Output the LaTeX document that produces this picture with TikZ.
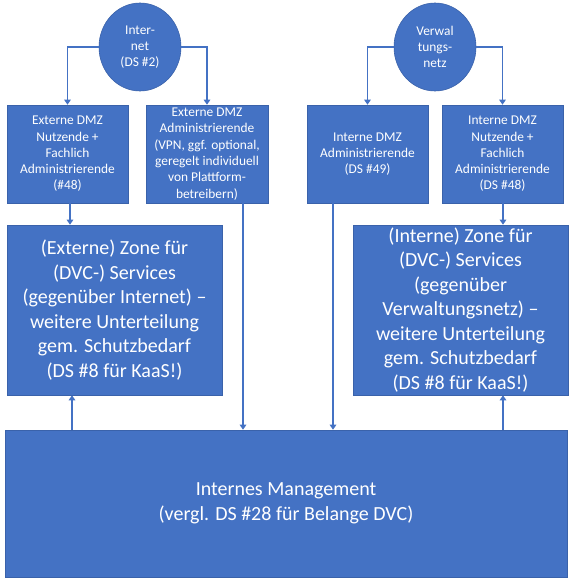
\documentclass[tikz,border=0pt]{standalone}
\usepackage{fontspec}
\setmainfont{Carlito}
\usetikzlibrary{arrows.meta,shapes.geometric}
\definecolor{obl}{HTML}{4472C4}
\definecolor{obd}{HTML}{3A62AA}
\begin{document}
\begin{tikzpicture}[x=1pt,y=-1pt,
  box/.style={rectangle,fill=obl,draw=obd,line width=0.6pt,inner sep=0pt,align=center,text=white},
  oval/.style={ellipse,fill=obl,draw=obd,line width=0.6pt,inner sep=0pt,align=center,text=white},
  small/.style={font=\fontsize{13.4}{16.3}\selectfont},
  big/.style={font=\fontsize{20}{24.5}\selectfont},
  conn/.style={draw=obl,line width=1.8pt},
  arr/.style={conn,-{Triangle[width=6.5pt,length=5pt]}}]
\useasboundingbox[fill=white] (0,0) rectangle (585,583);

% circles
\node[oval,small,minimum width=82pt,minimum height=88pt] (inet) at (140,47) {Inter-\\net\\(DS \#2)};
\node[oval,small,minimum width=82pt,minimum height=88pt] (verw) at (435,47) {Verwal\\tungs-\\netz};

% row 1
\node[box,small,minimum width=121pt,minimum height=98pt] (boxA) at (67.5,154) {Externe DMZ\\Nutzende +\\Fachlich\\Administrierende\\(\#48)};
\node[box,small,minimum width=122pt,minimum height=98pt] (boxB) at (207,154) {Externe DMZ\\Administrierende\\(VPN, ggf. optional,\\geregelt individuell\\von Plattform-\\betreibern)};
\node[box,small,minimum width=121pt,minimum height=98pt] (boxC) at (367.5,154) {Interne DMZ\\Administrierende\\(DS \#49)};
\node[box,small,minimum width=121pt,minimum height=98pt] (boxD) at (502.5,154) {Interne DMZ\\Nutzende +\\Fachlich\\Administrierende\\(DS \#48)};

% row 2
\node[box,big,minimum width=215pt,minimum height=170pt] (zoneE) at (114.5,310) {(Externe) Zone für\\(DVC-) Services\\(gegenüber Internet) –\\weitere Unterteilung\\gem. Schutzbedarf\\(DS \#8 für KaaS!)};
\node[box,big,minimum width=215pt,minimum height=170pt] (zoneF) at (460.5,310) {(Interne) Zone für\\(DVC-) Services\\(gegenüber\\Verwaltungsnetz) –\\weitere Unterteilung\\gem. Schutzbedarf\\(DS \#8 für KaaS!)};

% management
\node[box,big,minimum width=562pt,minimum height=147pt] (mgmt) at (286,503.5) {Internes Management\\(vergl. DS \#28 für Belange DVC)};

% helper x positions
\coordinate (xa) at (70,0);
\coordinate (xe) at (72,0);
\coordinate (xb) at (243,0);
\coordinate (xc) at (333,0);
\coordinate (xd) at (503,0);

% connectors from circles
\draw[arr] (inet.west) -| (boxA.north);
\draw[arr] (inet.east) -| (boxB.north);
\draw[arr] (verw.west) -| (boxC.north);
\draw[arr] (verw.east) -| (boxD.north);

% row 1 to row 2 / management
\draw[arr] (boxA.south -| xa) -- (zoneE.north -| xa);
\draw[arr] (boxB.south -| xb) -- (mgmt.north -| xb);
\draw[arr] (boxC.south -| xc) -- (mgmt.north -| xc);
\draw[arr] (boxD.south -| xd) -- (zoneF.north -| xd);

% management up to zones
\draw[arr] (mgmt.north -| xe) -- (zoneE.south -| xe);
\draw[arr] (mgmt.north -| xd) -- (zoneF.south -| xd);
\end{tikzpicture}
\end{document}
